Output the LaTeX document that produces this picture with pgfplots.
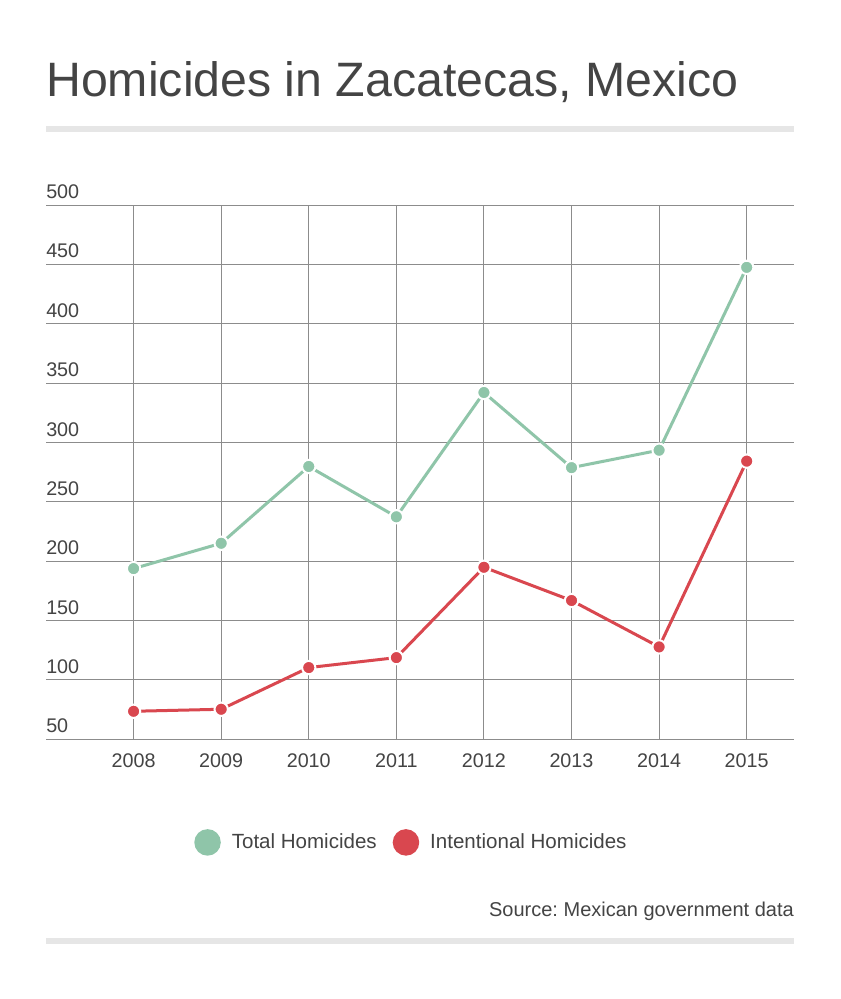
\documentclass[border=0pt]{standalone}
\usepackage{pgfplots}
\pgfplotsset{compat=1.18}
\usepackage{fontspec}
\setmainfont{Liberation Sans}
\frenchspacing
\definecolor{txt}{HTML}{444444}
\definecolor{tot}{HTML}{8FC5A9}
\definecolor{intc}{HTML}{D9474F}
\definecolor{gridc}{HTML}{8C8C8C}
\definecolor{barc}{HTML}{E6E6E6}
\begin{document}
\begin{tikzpicture}
\begin{scope}[x=0.75pt,y=0.75pt]
\fill[white] (0,0) rectangle (840,999);
\node[anchor=base west, inner sep=0pt, text=txt, font=\fontsize{36.2}{40}\selectfont] at (46,999-97) {Homicides in Zacatecas, Mexico};
\fill[barc] (46,999-126) rectangle (794,999-132);
\node[anchor=base east, inner sep=0pt, text=txt, font=\fontsize{15}{17}\selectfont] at (794,999-917) {Source: Mexican government data};
\fill[barc] (46,999-938) rectangle (794,999-944);
\end{scope}
\begin{axis}[
  at={(34.5pt,194.775pt)}, anchor=south west,
  scale only axis, width=561pt, height=400.7pt,
  xmin=2007, xmax=2015.54, ymin=50, ymax=500,
  axis line style={draw=none},
  xtick={2008,...,2015}, ytick={50,100,...,500},
  xticklabel style={/pgf/number format/1000 sep={}},
  /pgf/number format/assume math mode=true,
  grid=major, major grid style={gridc, line width=0.75pt},
  major tick length=0pt,
  tick label style={text=txt, font=\fontsize{14.8}{17}\selectfont},
  xticklabel style={anchor=north, yshift=-7pt},
  yticklabel style={anchor=south west, inner sep=0pt, xshift=0pt, yshift=4.5pt},
  clip=false,
  legend style={at={(0.489,-0.193)}, anchor=center, draw=none, fill=none, legend columns=2,
    font=\fontsize{15.4}{17}\selectfont, text=txt,
    /tikz/every even column/.append style={column sep=10pt}},
  legend cell align=left,
]
\addplot[tot, line width=2.25pt, mark=*, mark size=5pt, mark options={fill=tot, draw=white, line width=1.5pt},
  legend image code/.code={\fill[tot] (8.8pt,0pt) circle (8.8pt); \path[draw=none,fill=none] (0pt,0pt) -- (25pt,0pt);}]
  coordinates {(2008,193.8) (2009,215.1) (2010,279.8) (2011,237.4) (2012,342.1) (2013,278.8) (2014,293.5) (2015,447.5)};
\addlegendentry{Total Homicides}
\addplot[intc, line width=2.25pt, mark=*, mark size=5pt, mark options={fill=intc, draw=white, line width=1.5pt},
  legend image code/.code={\fill[intc] (8.8pt,0pt) circle (8.8pt); \path[draw=none,fill=none] (0pt,0pt) -- (25pt,0pt);}]
  coordinates {(2008,73.6) (2009,75.3) (2010,110.4) (2011,118.8) (2012,194.9) (2013,166.9) (2014,127.8) (2015,284.3)};
\addlegendentry{Intentional Homicides}
\end{axis}
\end{tikzpicture}
\end{document}
